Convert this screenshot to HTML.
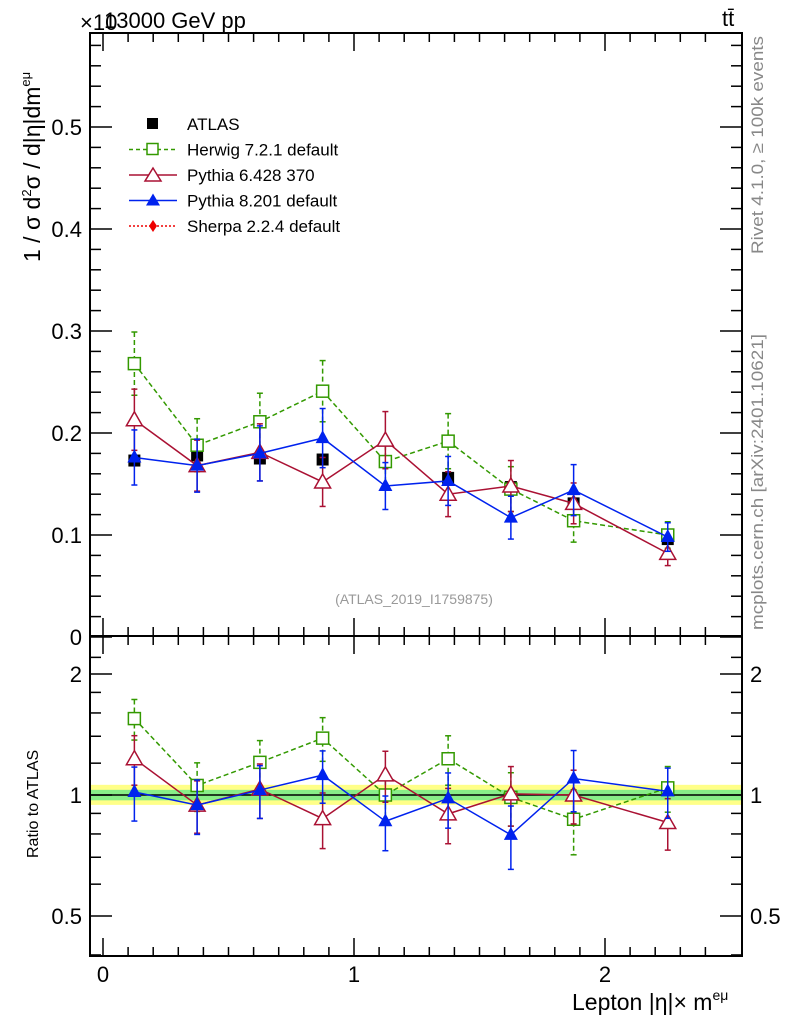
<!DOCTYPE html>
<html><head><meta charset="utf-8"><style>
body{margin:0;background:#fff}
svg{display:block;font-family:"Liberation Sans",sans-serif}
</style></head><body>
<svg id="c" width="786" height="1024" viewBox="0 0 786 1024" xmlns="http://www.w3.org/2000/svg">
<g id="g"></g>
</svg>
<script>
const binCenters=[0.125,0.375,0.625,0.875,1.125,1.375,1.625,1.875,2.25];
const atlasVals=[0.173,0.178,0.175,0.174,0.172,0.156,0.147,0.131,0.096];
const herwigVals=[0.268,0.188,0.211,0.241,0.172,0.192,0.145,0.114,0.100];
const herwigErr=[0.031,0.026,0.028,0.030,0.024,0.027,0.022,0.021,0.013];
const py6Vals=[0.213,0.168,0.181,0.152,0.193,0.140,0.148,0.131,0.082];
const py6Err=[0.030,0.025,0.028,0.024,0.028,0.022,0.025,0.020,0.012];
const py8Vals=[0.176,0.168,0.180,0.195,0.148,0.153,0.117,0.144,0.098];
const py8Err=[0.027,0.026,0.027,0.029,0.023,0.024,0.021,0.025,0.014];
const mainTicks=[0,0.1,0.2,0.3,0.4,0.5];
const ratioTicks=[0.5,1,2];
const xTicks=[0,1,2];

const NS='http://www.w3.org/2000/svg';
const g=document.getElementById('g');
function el(t,a,p){const e=document.createElementNS(NS,t);for(const k in a)e.setAttribute(k,a[k]);(p||g).appendChild(e);return e;}
const L=90,R=742,T=33,M=636,B=956;
const X=v=>103+v*251;
const Y=v=>637-v*1020;
const YR=v=>795-Math.log2(v)*121;

let band=el('rect',{x:L,y:YR(1.06),width:R-L,height:YR(0.945)-YR(1.06),fill:'#ffff88'});

band=el('rect',{x:L,y:YR(1.03),width:R-L,height:YR(0.97)-YR(1.03),fill:'#88ee88'});

el('line',{x1:L,x2:R,y1:YR(1),y2:YR(1),stroke:'#000','stroke-width':1.5});

let f=el('rect',{x:L,y:T,width:R-L,height:M-T,fill:'none',stroke:'#000','stroke-width':2});

f=el('rect',{x:L,y:M,width:R-L,height:B-M,fill:'none',stroke:'#000','stroke-width':2});


for(let v=0;v<=2.5;v+=0.1){const x=X(v);if(x>R)break;const maj=Math.abs(v-Math.round(v))<1e-6;const h=maj?18:9;
 for(const [y0,dir] of [[T,1],[M,-1],[M,1],[B,-1]]) el('line',{x1:x,x2:x,y1:y0,y2:y0+dir*h,stroke:'#000','stroke-width':1.5});}
xTicks.forEach(v=>{const t=el('text',{x:X(v),y:982,'font-size':22,'text-anchor':'middle'});t.textContent=v;
 });
for(let v=0;v<=0.59;v+=0.02){const y=Y(v);const maj=Math.abs(v*10-Math.round(v*10))<1e-6;const h=maj?22:11;
 el('line',{x1:L,x2:L+h,y1:y,y2:y,stroke:'#000','stroke-width':1.5});el('line',{x1:R,x2:R-h,y1:y,y2:y,stroke:'#000','stroke-width':1.5});}
mainTicks.forEach(v=>{const t=el('text',{x:82,y:Y(v)+8,'font-size':22,'text-anchor':'end'});t.textContent=v===0?'0':v.toFixed(1);
 });
[0.4,0.5,0.6,0.7,0.8,0.9,1,1.2,1.4,1.6,1.8,2,2.2].forEach(v=>{const y=YR(v);if(y<M||y>B)return;const maj=[0.5,1,2].includes(v);const h=maj?22:11;
 el('line',{x1:L,x2:L+h,y1:y,y2:y,stroke:'#000','stroke-width':1.5});el('line',{x1:R,x2:R-h,y1:y,y2:y,stroke:'#000','stroke-width':1.5});});
ratioTicks.forEach(v=>{let t=el('text',{x:82,y:YR(v)+8,'font-size':22,'text-anchor':'end'});t.textContent=v;
 
 t=el('text',{x:750,y:YR(v)+8,'font-size':22});t.textContent=v;
 });

function series(vals,err,color,dash,marker,name,ratio){
 const grp=el('g',{});
 const yf=ratio?(i=>YR(vals[i]/atlasVals[i])):(i=>Y(vals[i]));
 const ef=ratio?(i=>[YR((vals[i]+err[i])/atlasVals[i]),YR((vals[i]-err[i])/atlasVals[i])]):(i=>[Y(vals[i]+err[i]),Y(vals[i]-err[i])]);
 const pts=binCenters.map((c,i)=>X(c)+','+yf(i)).join(' ');
 el('polyline',{points:pts,fill:'none',stroke:color,'stroke-width':1.5,'stroke-dasharray':dash},grp);
 binCenters.forEach((c,i)=>{const x=X(c),y=yf(i);const [a,b]=ef(i);
  el('line',{x1:x,x2:x,y1:a,y2:b,stroke:color,'stroke-width':1.5,'stroke-dasharray':dash},grp);
  el('line',{x1:x-3,x2:x+3,y1:a,y2:a,stroke:color,'stroke-width':1.5},grp);
  el('line',{x1:x-3,x2:x+3,y1:b,y2:b,stroke:color,'stroke-width':1.5},grp);
  let m;
  if(marker==='sq')m=el('rect',{x:x-6,y:y-6,width:12,height:12,fill:'#fff',stroke:color,'stroke-width':1.5},grp);
  else if(marker==='otri')m=el('polygon',{points:`${x},${y-8} ${x-8},${y+6} ${x+8},${y+6}`,fill:'#fff',stroke:color,'stroke-width':1.5},grp);
  else m=el('polygon',{points:`${x},${y-8} ${x-7},${y+5} ${x+7},${y+5}`,fill:color},grp);
  
 });
}
binCenters.forEach((c,i)=>{const r=el('rect',{x:X(c)-6,y:Y(atlasVals[i])-6,width:12,height:12,fill:'#000'});
 });
series(herwigVals,herwigErr,'#339900','5,3','sq','herwig-series',false);
series(py6Vals,py6Err,'#aa1133','','otri','pythia6-series',false);
series(py8Vals,py8Err,'#0022ee','','ftri','pythia8-series',false);
series(herwigVals,herwigErr,'#339900','5,3','sq','herwig-ratio',true);
series(py6Vals,py6Err,'#aa1133','','otri','pythia6-ratio',true);
series(py8Vals,py8Err,'#0022ee','','ftri','pythia8-ratio',true);

const lg=el('g',{});
const items=[['ATLAS','#000','','atlas'],['Herwig 7.2.1 default','#339900','4,3','sq'],['Pythia 6.428 370','#aa1133','','otri'],['Pythia 8.201 default','#0022ee','','ftri'],['Sherpa 2.2.4 default','#ee0000','2,2','dia']];
items.forEach((it,i)=>{const y=124+i*25.5;const e=el('g',{},lg);
 if(it[3]==='atlas')el('rect',{x:147,y:y-6,width:11,height:11,fill:'#000'},e);
 else{el('line',{x1:129,x2:177,y1:y,y2:y,stroke:it[1],'stroke-width':1.5,'stroke-dasharray':it[2]},e);
  if(it[3]==='sq')el('rect',{x:147,y:y-6,width:11,height:11,fill:'#fff',stroke:it[1],'stroke-width':1.5},e);
  if(it[3]==='otri')el('polygon',{points:`153,${y-7} 145,${y+6} 161,${y+6}`,fill:'#fff',stroke:it[1],'stroke-width':1.5},e);
  if(it[3]==='ftri')el('polygon',{points:`153,${y-7} 146,${y+5} 160,${y+5}`,fill:it[1]},e);
  if(it[3]==='dia')el('polygon',{points:`153,${y-6} 157,${y} 153,${y+6} 149,${y}`,fill:it[1]},e);}
 const t=el('text',{x:187,y:y+6,'font-size':17},e);t.textContent=it[0];});

function txt(s,a,name){const t=el('text',a);t.textContent=s;return t;}
txt('×10',{x:80,y:30,'font-size':22},'y-exponent');
txt('13000 GeV pp',{x:104,y:28,'font-size':22},'title');
txt('tt̄',{x:722,y:26,'font-size':22},'process-label');
txt('(ATLAS_2019_I1759875)',{x:414,y:604,'font-size':14,fill:'#999','text-anchor':'middle'},'analysis-id');
txt('Rivet 4.1.0, ≥ 100k events',{x:0,y:0,'font-size':17,fill:'#888',textLength:218,lengthAdjust:'spacingAndGlyphs',transform:'translate(763,254) rotate(-90)'},'rivet-label');
txt('mcplots.cern.ch [arXiv:2401.10621]',{x:0,y:0,'font-size':17,fill:'#888',textLength:296,lengthAdjust:'spacingAndGlyphs',transform:'translate(763,630) rotate(-90)'},'mcplots-label');
const yt=txt('',{x:0,y:0,'font-size':23,transform:'translate(40,262) rotate(-90)'},'y-axis-title');
yt.innerHTML='1 / σ  d<tspan font-size="13" dy="-9">2</tspan><tspan dy="9">σ / d|η|dm</tspan><tspan font-size="13" dy="-10">eμ</tspan>';
txt('Ratio to ATLAS',{x:0,y:0,'font-size':16,transform:'translate(38,858) rotate(-90)'},'ratio-axis-title');
const xt=txt('',{x:572,y:1010,'font-size':23},'x-axis-title');
xt.innerHTML='Lepton |η|× m<tspan font-size="14" dy="-10">eμ</tspan>';
</script>
</body></html>
